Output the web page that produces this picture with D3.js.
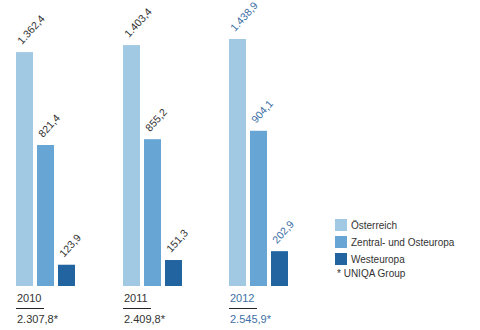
<!DOCTYPE html>
<html><head><meta charset="utf-8">
<script src="https://cdn.jsdelivr.net/npm/d3@7"></script>
<style>body{margin:0;background:#fff}svg{display:block}text{font-family:"Liberation Sans",Arial,sans-serif}</style>
</head><body><svg id="c" width="480" height="330"></svg>
<script>
const years = ["2010","2011","2012"];
const series = ["Österreich","Zentral- und Osteuropa","Westeuropa"];
const oesterreich = [1362.4, 1403.4, 1438.9];
const zentral = [821.4, 855.2, 904.1];
const westeuropa = [123.9, 151.3, 202.9];
const totals = ["2.307,8*","2.409,8*","2.545,9*"];
const footnote = "* UNIQA Group";

const colors = ["#a2c9e3","#67a5d5","#21649f"];
const values = [oesterreich, zentral, westeuropa];
const fmt = v => { const s = v.toFixed(1).replace(".", ","); const [i,d] = s.split(","); return i.replace(/\B(?=(\d{3})+(?!\d))/g,".") + "," + d; };

const svg = d3.select("#c");
const x0 = d3.scaleBand().domain(years).range([16, 336]).paddingInner(0).paddingOuter(0);
const x1 = d3.scaleBand().domain(d3.range(3)).range([0, 59]).paddingInner(4/21).paddingOuter(0);
const y = d3.scaleLinear().domain([0, 1666]).range([286, 0]);

years.forEach((yr, gi) => {
  const g = svg.append("g").attr("transform", `translate(${Math.round(x0(yr))},0)`);
  const tc = gi === 2 ? "#3d6fa6" : "#333";
  values.forEach((arr, si) => {
    const bx = x1(si);
    g.append("rect").attr("x", bx).attr("y", y(arr[gi])).attr("width", x1.bandwidth())
      .attr("height", y(0) - y(arr[gi])).attr("fill", colors[si]);
    g.append("text").attr("transform", `translate(${bx+6},${y(arr[gi])-7}) rotate(-48)`)
      .attr("font-size", 10.5).attr("fill", tc).text(fmt(arr[gi]));
  });
  g.append("text").attr("x", 1).attr("y", 302).attr("font-size", 11).attr("fill", tc).text(yr);
  g.append("line").attr("x1", 0).attr("x2", 28).attr("y1", 308.5).attr("y2", 308.5).attr("stroke", "#222").attr("stroke-width", 1);
  g.append("text").attr("x", 1).attr("y", 323).attr("font-size", 11).attr("fill", tc).text(totals[gi]);
});

const lg = svg.append("g").attr("transform", "translate(335,219)");
series.forEach((s, i) => {
  lg.append("rect").attr("x", 0).attr("y", i*17).attr("width", 12).attr("height", 12).attr("fill", colors[i]);
  lg.append("text").attr("x", 16).attr("y", i*17 + 10).attr("font-size", 10).attr("fill", "#333").text(s);
});
lg.append("text").attr("x", 2).attr("y", 58).attr("font-size", 10).attr("fill", "#333").text(footnote);
</script></body></html>
